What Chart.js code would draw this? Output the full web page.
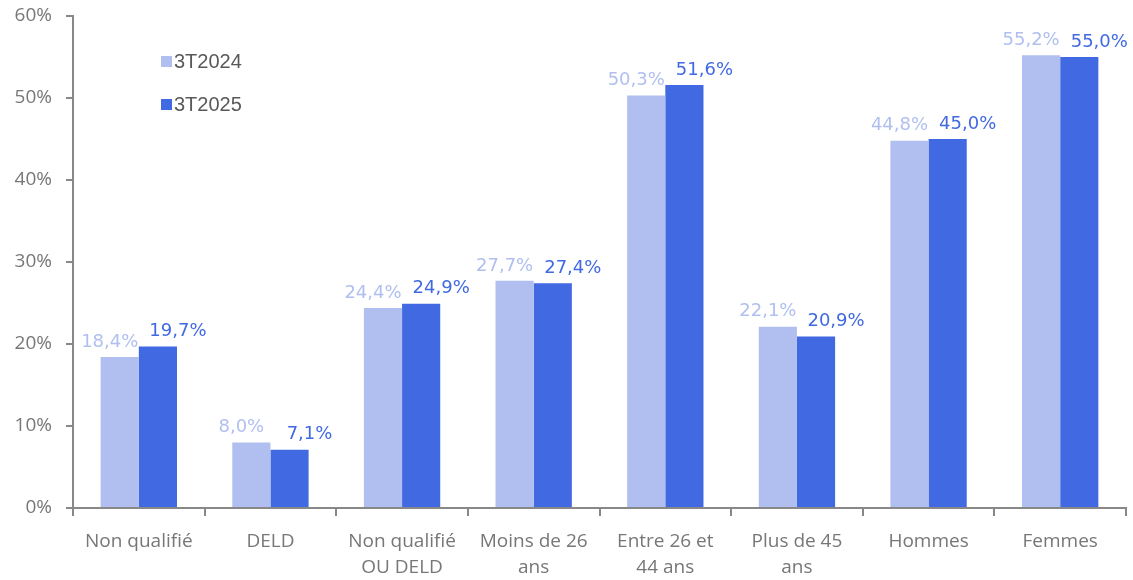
<!DOCTYPE html>
<html>
<head>
<meta charset="utf-8">
<script src="https://cdn.jsdelivr.net/npm/chart.js@4"></script>
<style>
  body { margin: 0; background: #fff; }
  #wrap { width: 1133px; height: 580px; }
</style>
</head>
<body>
<div id="wrap"><canvas id="barChart"></canvas></div>
<script>
var categories = [
  'Non qualifié', 'DELD', ['Non qualifié', 'OU DELD'], ['Moins de 26', 'ans'],
  ['Entre 26 et', '44 ans'], ['Plus de 45', 'ans'], 'Hommes', 'Femmes'
];
var seriesNames = ['3T2024', '3T2025'];
var values2024 = [18.4, 8.0, 24.4, 27.7, 50.3, 22.1, 44.8, 55.2];
var values2025 = [19.7, 7.1, 24.9, 27.4, 51.6, 20.9, 45.0, 55.0];
var colors = ['#b0bff0', '#4169e1'];
var labelShift = [-10, 20];

var axisFont = { family: '"Open Sans", sans-serif', size: 19, lineHeight: 1.4 };

// data labels above each bar, french decimal comma
var labelPlugin = {
  id: 'barLabels',
  afterDatasetsDraw: function (chart) {
    var c = chart.ctx;
    c.save();
    c.font = '18px "DejaVu Sans"';
    c.textAlign = 'center';
    c.textBaseline = 'bottom';
    chart.data.datasets.forEach(function (ds, i) {
      c.fillStyle = ds.backgroundColor;
      chart.getDatasetMeta(i).data.forEach(function (bar, j) {
        var txt = ds.data[j].toFixed(1).replace('.', ',') + '%';
        c.fillText(txt, bar.x + labelShift[i], bar.y - 6);
      });
    });
    c.restore();
  }
};

// legend drawn inside the plot, top left, stacked
var legendPlugin = {
  id: 'insideLegend',
  afterDraw: function (chart) {
    var c = chart.ctx;
    c.save();
    c.font = '20px "Liberation Sans"';
    c.textBaseline = 'middle';
    chart.data.datasets.forEach(function (ds, i) {
      var y = 61 + i * 43;
      c.fillStyle = ds.backgroundColor;
      c.fillRect(161, y - 5, 11, 11);
      c.fillStyle = '#595959';
      c.fillText(ds.label, 174, y + 1);
    });
    c.restore();
  }
};

var ctx = document.getElementById('barChart');
var barChart = new Chart(ctx, {
  type: 'bar',
  data: {
    labels: categories,
    datasets: [
      { label: seriesNames[0], data: values2024, backgroundColor: colors[0] },
      { label: seriesNames[1], data: values2025, backgroundColor: colors[1] }
    ]
  },
  options: {
    responsive: true,
    maintainAspectRatio: false,
    animation: false,
    layout: { padding: { top: 16, right: 7, left: 0, bottom: 0 } },
    datasets: { bar: { categoryPercentage: 0.58, barPercentage: 1.0 } },
    plugins: {
      legend: { display: false },
      tooltip: { enabled: false }
    },
    scales: {
      x: {
        offset: true,
        grid: { offset: true, drawOnChartArea: false, drawTicks: true, tickLength: 8, color: '#888', lineWidth: 2 },
        border: { color: '#888', width: 2 },
        ticks: { color: '#777', font: axisFont, padding: 12, maxRotation: 0, autoSkip: false },
        afterFit: function (s) { s.height = 72; }
      },
      y: {
        min: 0,
        max: 60,
        grid: { drawOnChartArea: false, drawTicks: true, tickLength: 7, color: '#888', lineWidth: 2 },
        border: { color: '#888', width: 2 },
        ticks: {
          stepSize: 10,
          color: '#777',
          font: axisFont,
          padding: 14,
          callback: function (v) { return v + '%'; }
        },
        afterFit: function (s) {
          s.width = 73;
          s.paddingTop = 0;
          s.paddingBottom = 0;
        }
      }
    }
  },
  plugins: [labelPlugin, legendPlugin]
});
</script>
</body>
</html>
